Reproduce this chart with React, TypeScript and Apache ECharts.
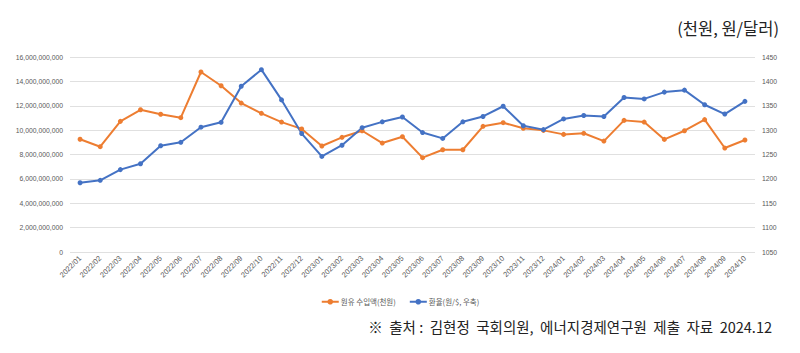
import React, { useEffect, useRef } from "react";
import * as echarts from "echarts";

const categories = [
  "2022/01","2022/02","2022/03","2022/04","2022/05","2022/06","2022/07","2022/08","2022/09","2022/10","2022/11","2022/12",
  "2023/01","2023/02","2023/03","2023/04","2023/05","2023/06","2023/07","2023/08","2023/09","2023/10","2023/11","2023/12",
  "2024/01","2024/02","2024/03","2024/04","2024/05","2024/06","2024/07","2024/08","2024/09","2024/10",
];

// 원유 수입액(천원)
const crudeImports = [
  9250000000, 8640000000, 10720000000, 11670000000, 11300000000, 11020000000, 14770000000, 13640000000, 12220000000, 11380000000, 10660000000, 10100000000,
  8700000000, 9410000000, 9950000000, 8940000000, 9460000000, 7740000000, 8390000000, 8390000000, 10310000000, 10610000000, 10150000000, 9980000000,
  9650000000, 9740000000, 9100000000, 10800000000, 10660000000, 9240000000, 9950000000, 10860000000, 8530000000, 9190000000,
];

// 환율(원/$, 우축)
const exchangeRate = [
  1192, 1197, 1219, 1231, 1268, 1275, 1306, 1316, 1390, 1424, 1362, 1293,
  1246, 1269, 1305, 1317, 1327, 1295, 1283, 1317, 1328, 1349, 1309, 1301,
  1323, 1330, 1328, 1367, 1364, 1378, 1382, 1352, 1333, 1359,
];

const seriesNames = ["원유 수입액(천원)", "환율(원/$, 우축)"];
const unitLabel = "(천원, 원/달러)";
const sourceLabel = "※  출처 :  김현정  국회의원,  에너지경제연구원  제출  자료  2024.12";

const numFont = "'Liberation Sans', sans-serif";
const krFont = "'Noto Sans CJK KR', sans-serif";

export default function App() {
  const ref = useRef<HTMLDivElement>(null);
  useEffect(() => {
    if (!ref.current) return;
    const chart = echarts.init(ref.current, null, { renderer: "svg" });
    chart.setOption({
      animation: false,
      backgroundColor: "#ffffff",
      grid: { left: 70, right: 45, top: 57, bottom: 101, containLabel: false },
      legend: {
        top: 293,
        left: "center",
        itemGap: 13,
        itemWidth: 17,
        itemHeight: 7,
        textStyle: { fontFamily: krFont, fontSize: 7.5, color: "#595959", padding: [0, 0, 0, -3] },
        data: seriesNames,
      },
      graphic: [
        {
          type: "text",
          right: 21,
          top: 20,
          style: { text: unitLabel, fontFamily: krFont, fontSize: 16.5, fill: "#222" },
        },
        {
          type: "text",
          right: 28,
          top: 319,
          style: { text: sourceLabel, fontFamily: krFont, fontSize: 14.5, fill: "#222" },
        },
      ],
      xAxis: {
        type: "category",
        data: categories,
        boundaryGap: true,
        axisLine: { show: false },
        axisTick: { show: false },
        axisLabel: {
          rotate: 45,
          interval: 0,
          fontFamily: numFont,
          fontSize: 7.5,
          color: "#595959",
          margin: 5,
        },
      },
      yAxis: [
        {
          type: "value",
          min: 0,
          max: 16000000000,
          interval: 2000000000,
          axisLine: { show: false },
          axisTick: { show: false },
          splitLine: { lineStyle: { color: "#e0e0e0", width: 1 } },
          axisLabel: {
            fontFamily: numFont,
            fontSize: 6.8,
            color: "#595959",
            margin: 7,
            formatter: (v: number) => v.toLocaleString("en-US"),
          },
        },
        {
          type: "value",
          min: 1050,
          max: 1450,
          interval: 50,
          position: "right",
          axisLine: { show: false },
          axisTick: { show: false },
          splitLine: { show: false },
          axisLabel: {
            fontFamily: numFont,
            fontSize: 6.8,
            color: "#595959",
            margin: 7,
            formatter: (v: number) => String(v),
          },
        },
      ],
      series: [
        {
          name: seriesNames[0],
          type: "line",
          yAxisIndex: 0,
          data: crudeImports,
          symbol: "circle",
          symbolSize: 5,
          lineStyle: { color: "#ED7D31", width: 2 },
          itemStyle: { color: "#ED7D31" },
        },
        {
          name: seriesNames[1],
          type: "line",
          yAxisIndex: 1,
          data: exchangeRate,
          symbol: "circle",
          symbolSize: 5,
          lineStyle: { color: "#4472C4", width: 2 },
          itemStyle: { color: "#4472C4" },
        },
      ],
    });
    return () => chart.dispose();
  }, []);
  return <div ref={ref} style={{ width: 800, height: 353, position: "absolute", left: 0, top: 0 }} />;
}
